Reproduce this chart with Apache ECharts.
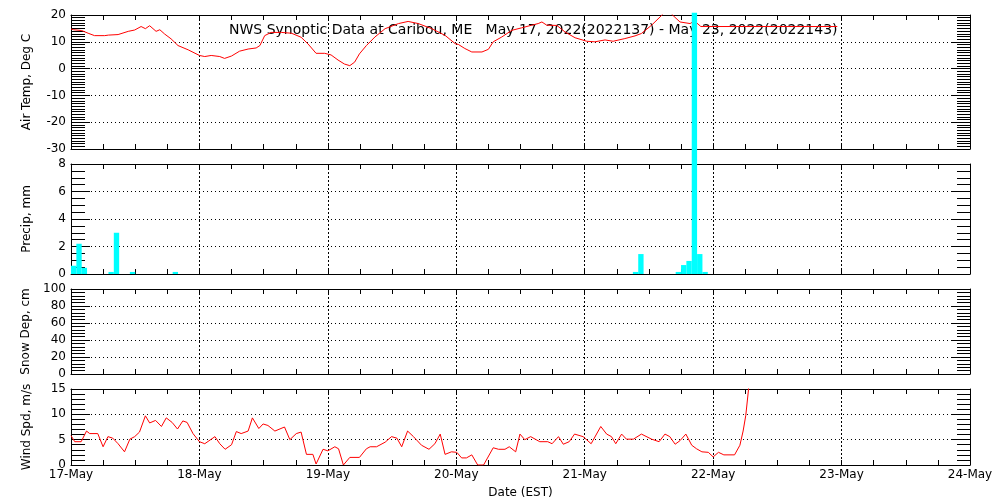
<!DOCTYPE html>
<html><head><meta charset="utf-8">
<script src="https://cdn.jsdelivr.net/npm/echarts@6/dist/echarts.min.js"></script>
<style>html,body{margin:0;padding:0;background:#fff}#c{width:1000px;height:500px}</style>
</head><body><div id="c"></div>
<script>
// hours since 17-May 00:00 EST
const dayLabels = ['17-May','18-May','19-May','20-May','21-May','22-May','23-May','24-May'];
const titleText = 'NWS Synoptic Data at Caribou, ME   May 17, 2022(2022137) - May 23, 2022(2022143)';
const panelNames = ['Air Temp, Deg C','Precip, mm','Snow Dep, cm','Wind Spd, m/s'];
const yMin = [-30, 0, 0, 0];
const yMax = [20, 8, 100, 15];
const yStep = [10, 2, 20, 5];
const yMinorSplit = [10, 4, 5, 5];

const tempData = [[0,14.8],[0.5,14.5],[2,14.2],[3.2,13.2],[4.4,12.3],[6.3,12.3],[7,12.5],[8.8,12.7],[10.7,13.9],[11.9,14.4],[13.1,15.7],[13.9,14.9],[14.7,16.0],[15.9,13.9],[16.6,14.5],[17.5,12.9],[18.7,11.1],[20,8.6],[21.9,7.0],[24,4.9],[25,4.5],[26.2,4.9],[27.8,4.5],[28.7,3.8],[30,4.7],[31.5,6.5],[33.1,7.3],[34.6,7.7],[35.3,8.6],[36.2,12.3],[37.4,13.5],[39.3,13.5],[41.2,13.2],[43,11.7],[44.3,9.2],[45.8,5.7],[47.4,5.7],[48.6,5.1],[49.9,3.2],[51.1,1.7],[52.1,1.1],[53,2.4],[53.9,5.5],[55.2,8.6],[56.8,11.8],[58.7,14.9],[61.2,16.8],[63,17.6],[64.9,16.8],[67.4,14.9],[69.9,12.4],[71.8,9.3],[72.4,9.0],[73.6,7.5],[74.9,6.2],[76.8,6.2],[78,7.2],[78.9,10],[80.5,11.8],[82.4,14.3],[84.2,15.2],[86.1,16.2],[87.3,16.8],[88,17.4],[88.9,16.2],[90.8,16.1],[92.3,13.7],[94.2,11.5],[96.4,10.2],[97.9,10],[99.8,10.7],[101.3,10.2],[103.5,11.2],[105.4,12.2],[106.6,13.1],[108.5,16.2],[110.4,19.9],[111.5,23],[112.3,20.2],[113.8,17.4],[115.7,16.8],[116.5,17.8],[117.7,15.7],[143.2,15.7]];

const precipData = [[0.5,0.6],[1.5,2.2],[2.5,0.45],[7.5,0.15],[8.5,3.0],[11.5,0.15],[19.5,0.15],[105.5,0.15],[106.5,1.45],[113.5,0.15],[114.5,0.65],[115.5,0.95],[116.5,19],[117.5,1.45],[118.5,0.15]];

const snowData = [];

const windData = [[0,5.8],[0.7,4.6],[1.9,4.6],[2.9,6.7],[3.5,6.2],[5,6.2],[6,3.6],[6.9,5.6],[7.8,5.3],[8.8,4.2],[10,2.6],[11,5.1],[11.9,5.6],[12.8,6.5],[13.9,9.7],[14.7,8.3],[15.8,8.8],[16.9,7.6],[17.8,9.3],[18.9,8.4],[19.9,7.1],[20.9,8.7],[21.7,8.4],[22.8,6.2],[24,4.6],[25,4.2],[26.9,5.6],[27.8,4.2],[28.8,3.1],[30,4.0],[30.9,6.6],[31.8,6.2],[33.1,6.7],[33.9,9.3],[35.1,7.2],[35.9,8.1],[36.8,7.8],[38.1,6.7],[39.9,7.5],[40.9,5.0],[42.1,6.2],[43,6.5],[44,2.1],[45.2,2.1],[45.8,0.2],[47.1,3.1],[48,2.8],[49.3,3.6],[50,3.2],[50.9,0],[52.1,1.5],[53.9,1.5],[55.2,3.2],[55.9,3.6],[57.1,3.6],[58.7,4.5],[59.9,5.6],[60.9,5.3],[61.8,3.6],[62.9,6.7],[64,5.6],[65.5,3.9],[66.9,3.1],[68,4.2],[69,6.1],[69.9,2.1],[71.1,2.6],[72.1,2.5],[73,1.4],[73.9,1.4],[74.9,2.0],[76,0],[77.1,0],[78.9,3.4],[79.9,3.1],[81.1,3.1],[81.9,3.6],[83.1,2.6],[83.9,6.1],[84.8,5.0],[85.9,5.6],[87.6,4.6],[89.1,4.6],[89.9,4.2],[91.1,5.6],[92,4.1],[93.1,4.6],[94.1,6.1],[95.7,5.6],[97.2,4.2],[99,7.6],[100.1,6.1],[101,5.6],[101.8,4.2],[102.9,6.1],[103.8,5.1],[105.1,5.1],[106.6,6.1],[108.5,5.1],[109.9,4.6],[111,6.1],[111.9,5.6],[112.9,4.1],[113.8,4.8],[114.9,6.1],[116,3.9],[116.9,3.2],[117.9,2.6],[119.1,2.5],[120,1.6],[121,2.5],[122,2.0],[124,2.0],[125,3.9],[125.6,6.7],[126.1,9.8],[126.6,14.8],[127,20]];

const FONT = 'DejaVu Sans';
const gridsPos = [{top:15,height:134},{top:164,height:110},{top:289,height:85},{top:389,height:80}];

const grids = [], xAxes = [], yAxes = [];
gridsPos.forEach((g, i) => {
  grids.push({left:71, right:30, top:g.top, height:g.height, show:false});
  const blk = {color:'#000', width:1};
  xAxes.push({
    type:'value', gridIndex:i, position:'bottom', min:0, max:168, interval:24,
    axisLine:{show:true, onZero:false, lineStyle:blk},
    axisTick:{show:true, inside:true, length:5, lineStyle:blk},
    minorTick:{show:true, splitNumber:4, length:5, lineStyle:blk},
    splitLine:{show:true, lineStyle:{color:'#000', width:1, type:[2,2]}},
    axisLabel:{show:i===3, margin:4, fontFamily:FONT, fontSize:12, color:'#000',
      formatter:v => dayLabels[Math.round(v/24)]},
    name: i===3 ? 'Date (EST)' : '', nameLocation:'middle', nameGap:22,
    nameTextStyle:{fontFamily:FONT, fontSize:12, color:'#000'}
  });
  xAxes.push({
    type:'value', gridIndex:i, position:'top', min:0, max:168, interval:24,
    axisLine:{show:true, onZero:false, lineStyle:blk},
    axisTick:{show:true, inside:true, length:5, lineStyle:blk},
    minorTick:{show:true, splitNumber:4, length:5, lineStyle:blk},
    splitLine:{show:false}, axisLabel:{show:false}
  });
  yAxes.push({
    type:'value', gridIndex:i, position:'left', min:yMin[i], max:yMax[i], interval:yStep[i],
    axisLine:{show:true, onZero:false, lineStyle:blk},
    axisTick:{show:true, inside:true, length:19, lineStyle:blk},
    minorTick:{show:true, splitNumber:yMinorSplit[i], length:14, lineStyle:blk},
    splitLine:{show:true, lineStyle:{color:'#000', width:1, type:[1,3]}},
    axisLabel:{show:true, margin:5, fontFamily:FONT, fontSize:12, color:'#000'},
    name: panelNames[i], nameLocation:'middle', nameGap:38, nameRotate:90,
    nameTextStyle:{fontFamily:FONT, fontSize:12, color:'#000'}
  });
  yAxes.push({
    type:'value', gridIndex:i, position:'right', min:yMin[i], max:yMax[i], interval:yStep[i],
    axisLine:{show:true, onZero:false, lineStyle:blk},
    axisTick:{show:true, inside:true, length:18, lineStyle:blk},
    minorTick:{show:true, splitNumber:yMinorSplit[i], length:13, lineStyle:blk},
    splitLine:{show:false}, axisLabel:{show:false}
  });
});

const chart = echarts.init(document.getElementById('c'), null, {renderer:'canvas'});
chart.setOption({
  animation:false,
  backgroundColor:'#fff',
  grid: grids, xAxis: xAxes, yAxis: yAxes,
  graphic:[{type:'text', left:229, top:23, z:1,
    style:{text:titleText, font:'14px "DejaVu Sans"', fill:'#000'}}],
  series:[
    {type:'line', xAxisIndex:0, yAxisIndex:0, data:tempData, showSymbol:false, clip:true,
      lineStyle:{color:'#ff0000', width:1}, z:5},
    {type:'bar', xAxisIndex:2, yAxisIndex:2, data:precipData, barWidth:5.35, clip:false,
      itemStyle:{color:'#00ffff'}, z:10},
    {type:'line', xAxisIndex:4, yAxisIndex:4, data:snowData, showSymbol:false,
      lineStyle:{color:'#ff0000', width:1}},
    {type:'line', xAxisIndex:6, yAxisIndex:6, data:windData, showSymbol:false, clip:true,
      lineStyle:{color:'#ff0000', width:1}, z:5}
  ]
});
</script></body></html>
